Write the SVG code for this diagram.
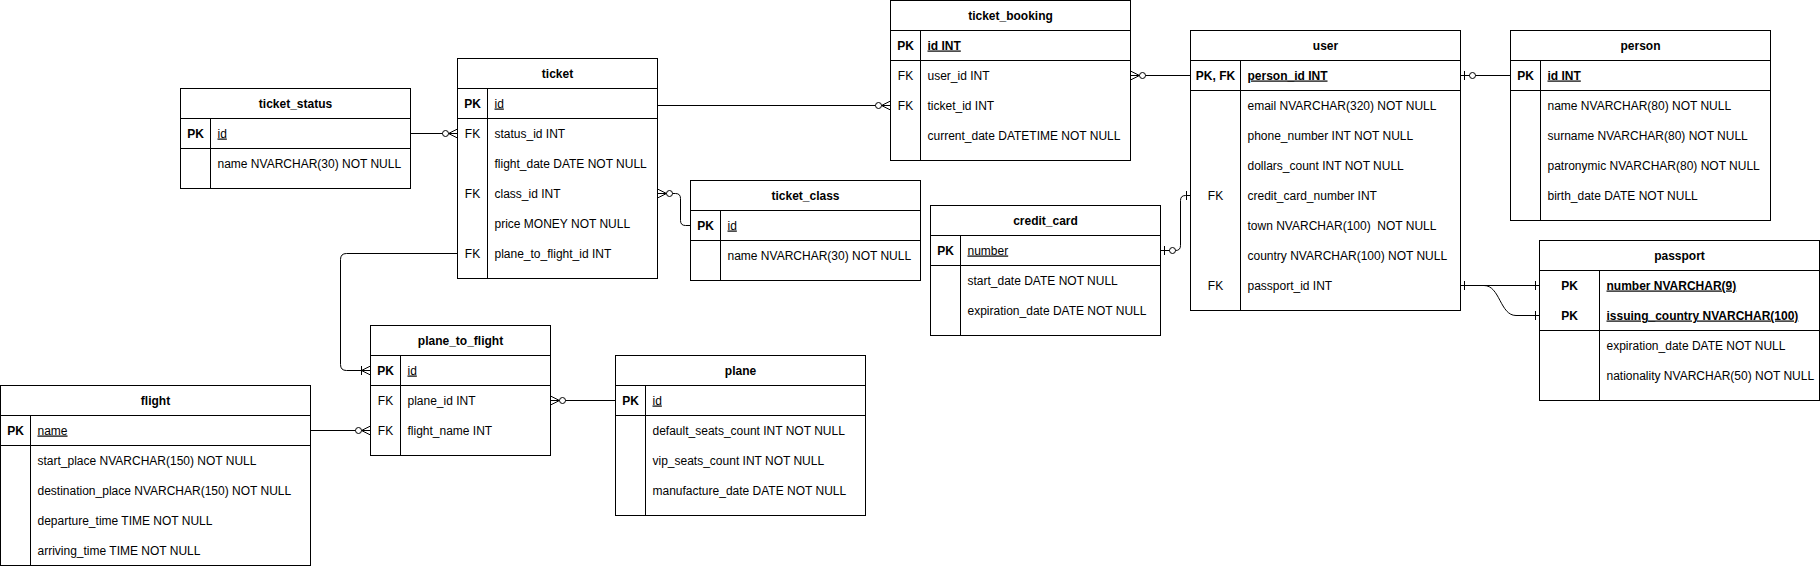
<svg xmlns="http://www.w3.org/2000/svg" width="1820" height="566" viewBox="0 0 1820 566">
<style>
.box{fill:#fff;stroke:#000;stroke-width:1}
.ln{stroke:#000;stroke-width:1;fill:none}
.t{font-family:"Liberation Sans",Arial,sans-serif;font-size:12px;fill:#000}
.c{text-anchor:middle}
.h{text-anchor:middle;font-weight:bold}
.k{text-anchor:middle;font-weight:bold}
.u{text-decoration:underline}
.b{font-weight:bold;text-decoration:underline}
.e{fill:none;stroke:#000;stroke-width:1}
.m{fill:none;stroke:#000;stroke-width:1}
.mc{fill:#fff;stroke:#000;stroke-width:1}
</style>
<defs>
<marker id="zm" viewBox="-20 -10 22 20" refX="0" refY="0" markerWidth="22" markerHeight="20" markerUnits="userSpaceOnUse" orient="auto-start-reverse" overflow="visible">
<path class="m" d="M-9,0 L0,-4.5 M-9,0 L0,4.5"/><circle class="mc" cx="-12" cy="0" r="3"/>
</marker>
<marker id="zo" viewBox="-20 -10 22 20" refX="0" refY="0" markerWidth="22" markerHeight="20" markerUnits="userSpaceOnUse" orient="auto-start-reverse" overflow="visible">
<path class="m" d="M-4,-4.5 V4.5"/><circle class="mc" cx="-12" cy="0" r="3"/>
</marker>
<marker id="one" viewBox="-20 -10 22 20" refX="0" refY="0" markerWidth="22" markerHeight="20" markerUnits="userSpaceOnUse" orient="auto-start-reverse" overflow="visible">
<path class="m" d="M-4,-4.5 V4.5"/>
</marker>
<marker id="om" viewBox="-20 -10 22 20" refX="0" refY="0" markerWidth="22" markerHeight="20" markerUnits="userSpaceOnUse" orient="auto-start-reverse" overflow="visible">
<path class="m" d="M-9,0 L0,-4.5 M-9,0 L0,4.5 M-9,-4.5 V4.5"/>
</marker>
</defs>
<rect x="0" y="0" width="1820" height="566" fill="#fff"/>

<g id="connectors">
<path class="e" d="M410.5,133.5 H457.5" marker-end="url(#zm)"/>
<path class="e" d="M657.5,105.5 H890.5" marker-end="url(#zm)"/>
<path class="e" d="M1130.5,75.5 H1190.5" marker-start="url(#zm)"/>
<path class="e" d="M1460.5,75.5 H1510.5" marker-start="url(#zo)"/>
<path class="e" d="M657.5,193.5 H675.5 Q680.5,193.5 680.5,198.5 V220.5 Q680.5,225.5 685.5,225.5 H690.5" marker-start="url(#zm)"/>
<path class="e" d="M457.5,253.5 H346.5 Q340.5,253.5 340.5,259.5 V364.5 Q340.5,370.5 346.5,370.5 H370.5" marker-end="url(#om)"/>
<path class="e" d="M310.5,430.5 H370.5" marker-end="url(#zm)"/>
<path class="e" d="M550.5,400.5 H615.5" marker-start="url(#zm)"/>
<path class="e" d="M1160.5,250.5 H1175.5 Q1180.5,250.5 1180.5,245.5 V200.5 Q1180.5,195.5 1185.5,195.5 H1190.5" marker-start="url(#zo)" marker-end="url(#one)"/>
<path class="e" d="M1460.5,285.5 H1539.5" marker-start="url(#one)" marker-end="url(#one)"/>
<path class="e" d="M1460.5,285.5 H1484 C1500,285.5 1500,315.5 1516,315.5 H1539.5" marker-start="url(#one)" marker-end="url(#one)"/>
</g>

<g id="ticket_status">
<rect class="box" x="180.5" y="88.5" width="230" height="100"/>
<path class="ln" d="M180.5,118.5 H410.5 M180.5,148.5 H410.5 M210.5,118.5 V188.5"/>
<text class="t h" x="295.5" y="107.5">ticket_status</text>
<text class="t k" x="195.5" y="137.5">PK</text>
<text class="t u" x="217.5" y="137.5">id</text>
<text class="t" x="217.5" y="167.5">name NVARCHAR(30) NOT NULL</text>
</g>

<g id="ticket">
<rect class="box" x="457.5" y="58.5" width="200" height="220"/>
<path class="ln" d="M457.5,88.5 H657.5 M457.5,118.5 H657.5 M487.5,88.5 V278.5"/>
<text class="t h" x="557.5" y="77.5">ticket</text>
<text class="t k" x="472.5" y="107.5">PK</text>
<text class="t u" x="494.5" y="107.5">id</text>
<text class="t c" x="472.5" y="137.5">FK</text>
<text class="t" x="494.5" y="137.5">status_id INT</text>
<text class="t" x="494.5" y="167.5">flight_date DATE NOT NULL</text>
<text class="t c" x="472.5" y="197.5">FK</text>
<text class="t" x="494.5" y="197.5">class_id INT</text>
<text class="t" x="494.5" y="227.5">price MONEY NOT NULL</text>
<text class="t c" x="472.5" y="257.5">FK</text>
<text class="t" x="494.5" y="257.5">plane_to_flight_id INT</text>
</g>

<g id="ticket_booking">
<rect class="box" x="890.5" y="0.5" width="240" height="160"/>
<path class="ln" d="M890.5,30.5 H1130.5 M890.5,60.5 H1130.5 M920.5,30.5 V160.5"/>
<text class="t h" x="1010.5" y="19.5">ticket_booking</text>
<text class="t k" x="905.5" y="49.5">PK</text>
<text class="t b" x="927.5" y="49.5">id INT</text>
<text class="t c" x="905.5" y="79.5">FK</text>
<text class="t" x="927.5" y="79.5">user_id INT</text>
<text class="t c" x="905.5" y="109.5">FK</text>
<text class="t" x="927.5" y="109.5">ticket_id INT</text>
<text class="t" x="927.5" y="139.5">current_date DATETIME NOT NULL</text>
</g>

<g id="user">
<rect class="box" x="1190.5" y="30.5" width="270" height="280"/>
<path class="ln" d="M1190.5,60.5 H1460.5 M1190.5,90.5 H1460.5 M1240.5,60.5 V310.5"/>
<text class="t h" x="1325.5" y="49.5">user</text>
<text class="t k" x="1215.5" y="79.5">PK, FK</text>
<text class="t b" x="1247.5" y="79.5">person_id INT</text>
<text class="t" x="1247.5" y="109.5">email NVARCHAR(320) NOT NULL</text>
<text class="t" x="1247.5" y="139.5">phone_number INT NOT NULL</text>
<text class="t" x="1247.5" y="169.5">dollars_count INT NOT NULL</text>
<text class="t c" x="1215.5" y="199.5">FK</text>
<text class="t" x="1247.5" y="199.5">credit_card_number INT</text>
<text class="t" x="1247.5" y="229.5" xml:space="preserve">town NVARCHAR(100)  NOT NULL</text>
<text class="t" x="1247.5" y="259.5">country NVARCHAR(100) NOT NULL</text>
<text class="t c" x="1215.5" y="289.5">FK</text>
<text class="t" x="1247.5" y="289.5">passport_id INT</text>
</g>

<g id="person">
<rect class="box" x="1510.5" y="30.5" width="260" height="190"/>
<path class="ln" d="M1510.5,60.5 H1770.5 M1510.5,90.5 H1770.5 M1540.5,60.5 V220.5"/>
<text class="t h" x="1640.5" y="49.5">person</text>
<text class="t k" x="1525.5" y="79.5">PK</text>
<text class="t b" x="1547.5" y="79.5">id INT</text>
<text class="t" x="1547.5" y="109.5">name NVARCHAR(80) NOT NULL</text>
<text class="t" x="1547.5" y="139.5">surname NVARCHAR(80) NOT NULL</text>
<text class="t" x="1547.5" y="169.5">patronymic NVARCHAR(80) NOT NULL</text>
<text class="t" x="1547.5" y="199.5">birth_date DATE NOT NULL</text>
</g>

<g id="passport">
<rect class="box" x="1539.5" y="240.5" width="280" height="160"/>
<path class="ln" d="M1539.5,270.5 H1819.5 M1539.5,330.5 H1819.5 M1599.5,270.5 V400.5"/>
<text class="t h" x="1679.5" y="259.5">passport</text>
<text class="t k" x="1569.5" y="289.5">PK</text>
<text class="t b" x="1606.5" y="289.5">number NVARCHAR(9)</text>
<text class="t k" x="1569.5" y="319.5">PK</text>
<text class="t b" x="1606.5" y="319.5">issuing_country NVARCHAR(100)</text>
<text class="t" x="1606.5" y="349.5">expiration_date DATE NOT NULL</text>
<text class="t" x="1606.5" y="379.5">nationality NVARCHAR(50) NOT NULL</text>
</g>

<g id="credit_card">
<rect class="box" x="930.5" y="205.5" width="230" height="130"/>
<path class="ln" d="M930.5,235.5 H1160.5 M930.5,265.5 H1160.5 M960.5,235.5 V335.5"/>
<text class="t h" x="1045.5" y="224.5">credit_card</text>
<text class="t k" x="945.5" y="254.5">PK</text>
<text class="t u" x="967.5" y="254.5">number</text>
<text class="t" x="967.5" y="284.5">start_date DATE NOT NULL</text>
<text class="t" x="967.5" y="314.5">expiration_date DATE NOT NULL</text>
</g>

<g id="ticket_class">
<rect class="box" x="690.5" y="180.5" width="230" height="100"/>
<path class="ln" d="M690.5,210.5 H920.5 M690.5,240.5 H920.5 M720.5,210.5 V280.5"/>
<text class="t h" x="805.5" y="199.5">ticket_class</text>
<text class="t k" x="705.5" y="229.5">PK</text>
<text class="t u" x="727.5" y="229.5">id</text>
<text class="t" x="727.5" y="259.5">name NVARCHAR(30) NOT NULL</text>
</g>

<g id="plane_to_flight">
<rect class="box" x="370.5" y="325.5" width="180" height="130"/>
<path class="ln" d="M370.5,355.5 H550.5 M370.5,385.5 H550.5 M400.5,355.5 V455.5"/>
<text class="t h" x="460.5" y="344.5">plane_to_flight</text>
<text class="t k" x="385.5" y="374.5">PK</text>
<text class="t u" x="407.5" y="374.5">id</text>
<text class="t c" x="385.5" y="404.5">FK</text>
<text class="t" x="407.5" y="404.5">plane_id INT</text>
<text class="t c" x="385.5" y="434.5">FK</text>
<text class="t" x="407.5" y="434.5">flight_name INT</text>
</g>

<g id="plane">
<rect class="box" x="615.5" y="355.5" width="250" height="160"/>
<path class="ln" d="M615.5,385.5 H865.5 M615.5,415.5 H865.5 M645.5,385.5 V515.5"/>
<text class="t h" x="740.5" y="374.5">plane</text>
<text class="t k" x="630.5" y="404.5">PK</text>
<text class="t u" x="652.5" y="404.5">id</text>
<text class="t" x="652.5" y="434.5">default_seats_count INT NOT NULL</text>
<text class="t" x="652.5" y="464.5">vip_seats_count INT NOT NULL</text>
<text class="t" x="652.5" y="494.5">manufacture_date DATE NOT NULL</text>
</g>

<g id="flight">
<rect class="box" x="0.5" y="385.5" width="310" height="180"/>
<path class="ln" d="M0.5,415.5 H310.5 M0.5,445.5 H310.5 M30.5,415.5 V565.5"/>
<text class="t h" x="155.5" y="404.5">flight</text>
<text class="t k" x="15.5" y="434.5">PK</text>
<text class="t u" x="37.5" y="434.5">name</text>
<text class="t" x="37.5" y="464.5">start_place NVARCHAR(150) NOT NULL</text>
<text class="t" x="37.5" y="494.5">destination_place NVARCHAR(150) NOT NULL</text>
<text class="t" x="37.5" y="524.5">departure_time TIME NOT NULL</text>
<text class="t" x="37.5" y="554.5">arriving_time TIME NOT NULL</text>
</g>
</svg>
